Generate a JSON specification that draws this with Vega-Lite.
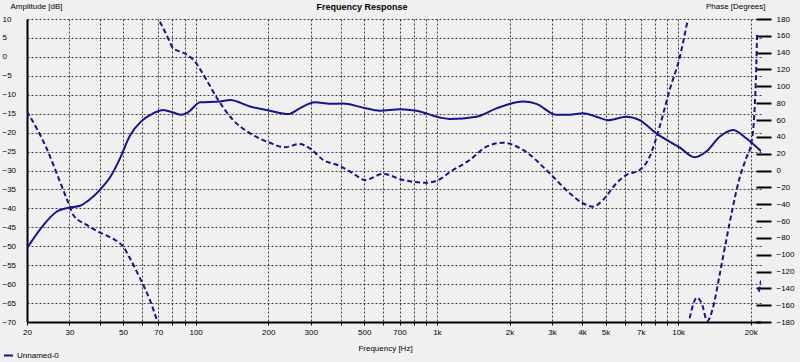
{
  "$schema": "https://vega.github.io/schema/vega-lite/v6.json",
  "width": 734,
  "height": 303,
  "autosize": {"type": "none"},
  "padding": {"left": 27, "top": 19, "right": 39, "bottom": 40},
  "background": "#f0f0f0",
  "config": {
    "view": {"stroke": null},
    "font": "Liberation Sans",
    "axis": {"labelFont": "Liberation Sans", "titleFont": "Liberation Sans", "labelColor": "#000", "titleColor": "#000", "labelFontSize": 8, "titleFontSize": 8, "titleFontWeight": "normal"}
  },
  "title": {"text": "Frequency Response", "fontSize": 9, "fontWeight": "bold", "font": "Liberation Sans", "color": "#000", "anchor": "middle", "frame": "group", "dx": -32, "offset": 6, "dy": 16},
  "datasets": {
    "amp": [
      {"f": 20, "db": -50.5}, {"f": 23.4, "db": -44.4}, {"f": 26.5, "db": -40.9}, {"f": 29.9, "db": -39.8},
      {"f": 33.2, "db": -39.3}, {"f": 36.5, "db": -37.6}, {"f": 40.1, "db": -35.1}, {"f": 44.2, "db": -31.8},
      {"f": 48.6, "db": -26.8}, {"f": 53.4, "db": -20.8}, {"f": 59.3, "db": -17.1}, {"f": 66.7, "db": -14.9},
      {"f": 73.4, "db": -14.0}, {"f": 80.7, "db": -14.7}, {"f": 87.3, "db": -15.3}, {"f": 93.2, "db": -14.6},
      {"f": 104.4, "db": -12.0}, {"f": 126, "db": -11.8}, {"f": 139, "db": -11.4}, {"f": 168, "db": -13.1},
      {"f": 203, "db": -14.2}, {"f": 242, "db": -15.1}, {"f": 270, "db": -13.6}, {"f": 312, "db": -12.0},
      {"f": 360, "db": -12.4}, {"f": 408, "db": -12.3}, {"f": 494, "db": -13.4}, {"f": 580, "db": -14.2},
      {"f": 702, "db": -13.8}, {"f": 823, "db": -14.2}, {"f": 1028, "db": -16.0}, {"f": 1130, "db": -16.4},
      {"f": 1458, "db": -15.8}, {"f": 1765, "db": -13.6}, {"f": 2275, "db": -11.8}, {"f": 2586, "db": -12.4},
      {"f": 3130, "db": -15.3}, {"f": 3550, "db": -15.3}, {"f": 4030, "db": -14.9}, {"f": 4580, "db": -15.8},
      {"f": 5120, "db": -16.7}, {"f": 6100, "db": -15.8}, {"f": 6920, "db": -16.7}, {"f": 8120, "db": -20.2},
      {"f": 10140, "db": -23.9}, {"f": 11700, "db": -26.5}, {"f": 13080, "db": -25.0}, {"f": 14860, "db": -21.1},
      {"f": 16880, "db": -19.3}, {"f": 19150, "db": -21.5}, {"f": 22050, "db": -24.9}
    ],
    "phase": [
      {"seg": 1, "f": 20, "deg": 70.1}, {"seg": 1, "f": 24.1, "deg": 26.4}, {"seg": 1, "f": 27.4, "deg": -13.3},
      {"seg": 1, "f": 30.1, "deg": -43}, {"seg": 1, "f": 31.1, "deg": -52.8}, {"seg": 1, "f": 35.4, "deg": -64.7},
      {"seg": 1, "f": 38.9, "deg": -71.9}, {"seg": 1, "f": 42.8, "deg": -77.4}, {"seg": 1, "f": 47.1, "deg": -83.7},
      {"seg": 1, "f": 50.1, "deg": -90.5}, {"seg": 1, "f": 53.4, "deg": -104.3}, {"seg": 1, "f": 58.8, "deg": -128},
      {"seg": 1, "f": 64.6, "deg": -153.8}, {"seg": 1, "f": 69.3, "deg": -178.8},
      {"seg": 2, "f": 71.1, "deg": 176.8}, {"seg": 2, "f": 75.8, "deg": 161}, {"seg": 2, "f": 80.7, "deg": 145.2},
      {"seg": 2, "f": 86.1, "deg": 141.2}, {"seg": 2, "f": 91.7, "deg": 138}, {"seg": 2, "f": 99.3, "deg": 129.3},
      {"seg": 2, "f": 111, "deg": 107.5}, {"seg": 2, "f": 124, "deg": 83.8}, {"seg": 2, "f": 143, "deg": 60},
      {"seg": 2, "f": 168, "deg": 44.2}, {"seg": 2, "f": 203, "deg": 33}, {"seg": 2, "f": 234, "deg": 27.6},
      {"seg": 2, "f": 270, "deg": 31.5}, {"seg": 2, "f": 297, "deg": 26.4}, {"seg": 2, "f": 338, "deg": 12.5},
      {"seg": 2, "f": 396, "deg": 5.4}, {"seg": 2, "f": 449, "deg": -3.3}, {"seg": 2, "f": 503, "deg": -11.3},
      {"seg": 2, "f": 598, "deg": -4.1}, {"seg": 2, "f": 724, "deg": -11.3}, {"seg": 2, "f": 905, "deg": -14.5},
      {"seg": 2, "f": 1028, "deg": -10.4}, {"seg": 2, "f": 1131, "deg": -2}, {"seg": 2, "f": 1368, "deg": 12.5},
      {"seg": 2, "f": 1605, "deg": 28.3}, {"seg": 2, "f": 1880, "deg": 33}, {"seg": 2, "f": 2275, "deg": 24.4},
      {"seg": 2, "f": 2934, "deg": -3.3}, {"seg": 2, "f": 3551, "deg": -27}, {"seg": 2, "f": 4032, "deg": -38.9},
      {"seg": 2, "f": 4436, "deg": -43}, {"seg": 2, "f": 4878, "deg": -35}, {"seg": 2, "f": 5546, "deg": -15.2},
      {"seg": 2, "f": 6102, "deg": -5.3}, {"seg": 2, "f": 6924, "deg": 0.6}, {"seg": 2, "f": 7618, "deg": 16.4},
      {"seg": 2, "f": 8381, "deg": 52}, {"seg": 2, "f": 9218, "deg": 95.6}, {"seg": 2, "f": 10140, "deg": 134},
      {"seg": 2, "f": 10916, "deg": 176.8},
      {"seg": 3, "f": 11158, "deg": -175.6}, {"seg": 3, "f": 11958, "deg": -151.1}, {"seg": 3, "f": 12510, "deg": -157.4},
      {"seg": 3, "f": 13208, "deg": -178.8}, {"seg": 3, "f": 13932, "deg": -163.3}, {"seg": 3, "f": 14854, "deg": -124.1},
      {"seg": 3, "f": 15832, "deg": -82.5}, {"seg": 3, "f": 16862, "deg": -43.3}, {"seg": 3, "f": 17972, "deg": -8.9},
      {"seg": 3, "f": 19158, "deg": 14.9}, {"seg": 3, "f": 20098, "deg": 32.3}, {"seg": 3, "f": 20736, "deg": 71.9},
      {"seg": 3, "f": 21078, "deg": 123.3}, {"seg": 3, "f": 21238, "deg": 161},
      {"seg": 4, "f": 21606, "deg": -144}, {"seg": 4, "f": 22050, "deg": -131}
    ]
  },
  "layer": [
    {
      "data": {"name": "amp"},
      "mark": {"type": "line", "color": "#14148c", "strokeWidth": 2, "clip": true, "interpolate": "monotone"},
      "encoding": {
        "x": {
          "field": "f", "type": "quantitative",
          "scale": {"type": "log", "domain": [20, 22050], "nice": false},
          "axis": {
            "title": "Frequency [Hz]", "titleX": 358, "titleY": 26, "titleBaseline": "middle", "titleAlign": "center",
            "values": [20,30,40,50,60,70,80,90,100,200,300,400,500,600,700,800,900,1000,2000,3000,4000,5000,6000,7000,8000,9000,10000,20000],
            "labelExpr": "indexof([20,30,50,70,100,200,300,500,700,1000,2000,3000,4000,5000,7000,10000,20000], datum.value) >= 0 ? (datum.value >= 1000 ? (datum.value/1000) + 'k' : '' + datum.value) : ''",
            "labelOverlap": false, "labelFlush": false, "labelPadding": 3,
            "tickSize": 3, "tickColor": "#000",
            "domainColor": "#000", "domainWidth": 2,
            "grid": true, "gridColor": "#000", "gridDash": [2, 2], "gridOpacity": 0.75
          }
        },
        "y": {
          "field": "db", "type": "quantitative",
          "scale": {"domain": [-70, 10], "nice": false, "zero": false},
          "axis": {
            "orient": "left", "title": "Amplitude [dB]", "titleAngle": 0, "titleX": -17, "titleY": -13, "titleAlign": "left", "titleBaseline": "middle",
            "values": [-70,-65,-60,-55,-50,-45,-40,-35,-30,-25,-20,-15,-10,-5,0,5,10],
            "labelAlign": "left", "labelPadding": 25, "labelOverlap": false, "labelFlush": false, "labelBaseline": "middle",
            "ticks": false, "tickSize": 0,
            "domainColor": "#000", "domainWidth": 2,
            "grid": true, "gridColor": "#000", "gridDash": [2, 2], "gridOpacity": 0.75
          }
        },
        "color": {
          "datum": "Unnamed-0",
          "scale": {"range": ["#14148c"]},
          "legend": {"title": null, "orient": "none", "legendX": -24, "legendY": 331, "symbolType": "stroke", "symbolSize": 81, "symbolStrokeWidth": 2, "labelFontSize": 8, "labelFont": "Liberation Sans", "labelColor": "#000", "labelOffset": 3, "padding": 0}
        }
      }
    },
    {
      "data": {"name": "phase"},
      "mark": {"type": "line", "color": "#14148c", "strokeWidth": 2, "strokeDash": [5, 3], "clip": true, "interpolate": "monotone"},
      "encoding": {
        "x": {"field": "f", "type": "quantitative", "scale": {"type": "log", "domain": [20, 22050], "nice": false}},
        "y": {
          "field": "deg", "type": "quantitative",
          "scale": {"domain": [-180, 180], "nice": false, "zero": false},
          "axis": {
            "orient": "right", "title": "Phase [Degrees]", "titleAngle": 0, "titleX": 9, "titleY": -13, "titleAlign": "right", "titleBaseline": "middle",
            "values": [-180,-160,-140,-120,-100,-80,-60,-40,-20,0,20,40,60,80,100,120,140,160,180],
            "offset": -5, "domain": false, "grid": false,
            "tickSize": 15, "tickWidth": 2, "tickColor": "#000",
            "labelAlign": "left", "labelPadding": 5, "labelOverlap": false, "labelFlush": false, "labelBaseline": "middle"
          }
        },
        "detail": {"field": "seg", "type": "nominal"}
      }
    }
  ],
  "resolve": {"scale": {"y": "independent"}, "axis": {"y": "independent"}}
}
